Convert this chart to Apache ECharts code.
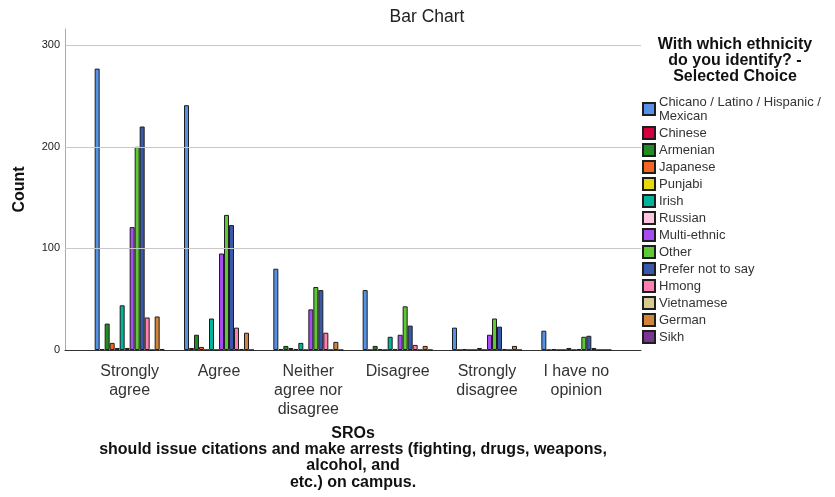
<!DOCTYPE html>
<html>
<head>
<meta charset="utf-8">
<script src="https://cdn.jsdelivr.net/npm/echarts@6/dist/echarts.min.js"></script>
<style>html,body{margin:0;padding:0;background:#fff}#c{width:835px;height:497px}</style>
</head>
<body>
<div id="c"></div>
<script>
const categories = ['Strongly\nagree', 'Agree', 'Neither\nagree nor\ndisagree', 'Disagree', 'Strongly\ndisagree', 'I have no\nopinion'];
const seriesNames = ['Chicano / Latino / Hispanic /\nMexican', 'Chinese', 'Armenian', 'Japanese', 'Punjabi', 'Irish', 'Russian', 'Multi-ethnic', 'Other', 'Prefer not to say', 'Hmong', 'Vietnamese', 'German', 'Sikh'];
const chicano    = [277, 241, 80, 59, 22, 19];
const chinese    = [1, 2, 1, 0, 0, 0];
const armenian   = [26, 15, 4, 4, 1, 1];
const japanese   = [7, 3, 2, 1, 0, 0];
const punjabi    = [2, 0, 1, 0, 0, 0];
const irish      = [44, 31, 7, 13, 2, 2];
const russian    = [2, 0, 0, 1, 0, 0];
const multiEthnic= [121, 95, 40, 15, 15, 1];
const other      = [200, 133, 62, 43, 31, 13];
const preferNot  = [220, 123, 59, 24, 23, 14];
const hmong      = [32, 22, 17, 5, 1, 2];
const vietnamese = [0, 1, 0, 0, 0, 0];
const german     = [33, 17, 8, 4, 4, 0];
const sikh       = [1, 0, 0, 0, 0, 0];
const yTicks = [100, 200, 300];

const values = [chicano, chinese, armenian, japanese, punjabi, irish, russian, multiEthnic, other, preferNot, hmong, vietnamese, german, sikh];
const colors = ['#5592E6', '#D6003E', '#228B22', '#F26522', '#E6D80A', '#00B39A', '#FFC4E0', '#A64CF0', '#5FC836', '#3A58AA', '#FF80AE', '#D6CC90', '#D0853A', '#7A3590'];
const FONT = 'Liberation Sans, Arial, sans-serif';

const chart = echarts.init(document.getElementById('c'), null, {renderer: 'canvas'});

const barSeries = seriesNames.map((n, i) => ({
  name: n,
  type: 'bar',
  xAxisIndex: 1,
  yAxisIndex: 1,
  data: values[i],
  barWidth: 5,
  barGap: '0%',
  z: 3,
  itemStyle: {color: colors[i], borderColor: '#1e1e1e', borderWidth: 1},
  emphasis: {disabled: true},
  animation: false
}));

chart.setOption({
  animation: false,
  color: colors,
  textStyle: {fontFamily: FONT},
  title: [
    {text: 'Bar Chart', left: 427, top: 8, textAlign: 'center', padding: 0,
     textStyle: {fontSize: 17.5, fontWeight: 'normal', color: '#222', fontFamily: FONT}},
    {text: 'With which ethnicity\ndo you identify? -\nSelected Choice', left: 735, top: 37, textAlign: 'center', padding: 0,
     textStyle: {fontSize: 16, fontWeight: 'bold', color: '#111', lineHeight: 16, fontFamily: FONT}}
  ],
  legend: {
    orient: 'vertical', left: 642, top: 95, padding: 0,
    itemWidth: 12, itemHeight: 12, itemGap: 3,
    icon: 'rect',
    data: seriesNames,
    textStyle: {fontSize: 13, lineHeight: 14, color: '#333', fontFamily: FONT, padding: [0, 0, 0, -1]},
    selectedMode: false
  },
  grid: [
    {left: 65, right: 194, top: 29, bottom: 147, containLabel: false},
    {left: 85, right: 214, top: 29, bottom: 147, containLabel: false}
  ],
  xAxis: [
    {type: 'value', gridIndex: 0, min: 0, max: 1,
     axisLine: {show: true, lineStyle: {color: '#333', width: 1}},
     axisTick: {show: false}, axisLabel: {show: false}, splitLine: {show: false},
     name: 'SROs\nshould issue citations and make arrests (fighting, drugs, weapons,\nalcohol, and\netc.) on campus.',
     nameLocation: 'middle', nameGap: 75,
     nameTextStyle: {fontSize: 16, fontWeight: 'bold', color: '#111', lineHeight: 16.4, align: 'center', verticalAlign: 'top', fontFamily: FONT}},
    {type: 'category', gridIndex: 1, data: categories,
     axisLine: {show: false}, axisTick: {show: false}, splitLine: {show: false},
     axisLabel: {fontSize: 16, lineHeight: 19, color: '#333', margin: 12, interval: 0, fontFamily: FONT}}
  ],
  yAxis: [
    {type: 'value', gridIndex: 0, min: 0, max: 316, interval: 100,
     axisLine: {show: true, lineStyle: {color: '#aaa', width: 1}},
     axisTick: {show: false},
     axisLabel: {fontSize: 11, color: '#222', margin: 5, showMaxLabel: false, fontFamily: FONT},
     splitLine: {show: false},
     name: 'Count', nameLocation: 'middle', nameGap: 37,
     nameTextStyle: {fontSize: 16, fontWeight: 'bold', color: '#111', fontFamily: FONT}},
    {type: 'value', gridIndex: 1, min: 0, max: 316, show: false, splitLine: {show: false}}
  ],
  series: [
    {type: 'line', xAxisIndex: 0, yAxisIndex: 0, data: [[0, 0]], showSymbol: false, symbol: 'none', z: 1,
     lineStyle: {opacity: 0}, silent: true, legendHoverLink: false,
     markLine: {silent: true, symbol: ['none', 'none'], label: {show: false},
       lineStyle: {color: '#c8c8c8', width: 1, type: 'solid'},
       data: yTicks.map(v => ({yAxis: v})), animation: false}}
  ].concat(barSeries)
});
</script>
</body>
</html>
